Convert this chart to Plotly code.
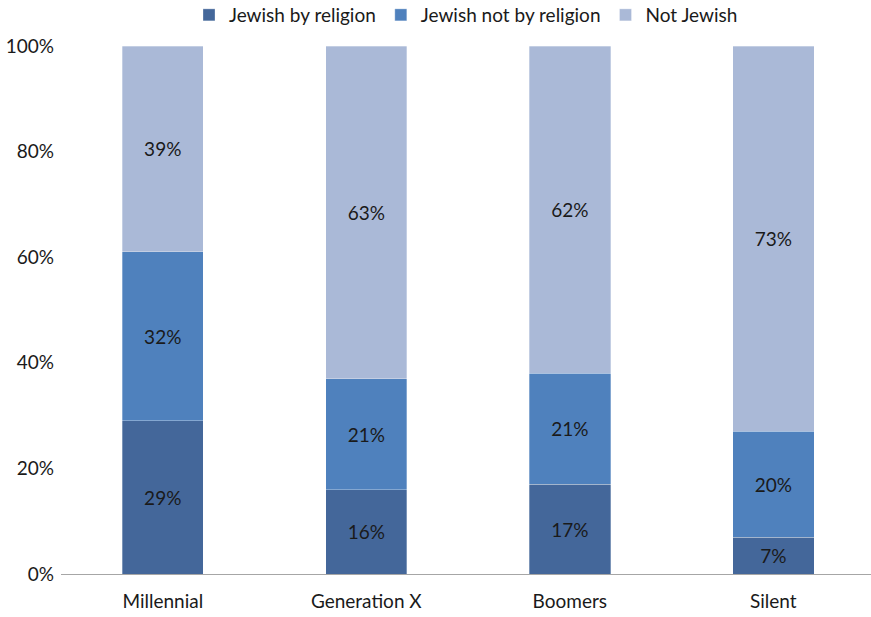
import plotly.graph_objects as go

categories = ["Millennial", "Generation X", "Boomers", "Silent"]
jewish_by_religion = [29, 16, 17, 7]
jewish_not_by_religion = [32, 21, 21, 20]
not_jewish = [39, 63, 62, 73]
series_names = ["Jewish by religion", "Jewish not by religion", "Not Jewish"]
colors = ["#44679A", "#4F81BD", "#AAB9D7"]
tick_vals = [0, 20, 40, 60, 80, 100]
tick_text = ["0%", "20%", "40%", "60%", "80%", "100%"]

FONT = "Lato, 'Open Sans', sans-serif"
FS = 19

fig = go.Figure()
for name, vals, col in zip(series_names, [jewish_by_religion, jewish_not_by_religion, not_jewish], colors):
    fig.add_trace(go.Bar(
        x=categories, y=vals, name=name,
        marker=dict(color=col, line=dict(color="rgba(255,255,255,0.6)", width=0.5)),
        width=0.4,
        text=[f"{v}%" for v in vals],
        textposition="inside", insidetextanchor="middle",
        textfont=dict(family=FONT, size=FS, color="#1a1a1a"),
        constraintext="none",
    ))

fig.update_layout(
    barmode="stack",
    width=871, height=617,
    margin=dict(l=61, r=0, t=46, b=43, autoexpand=False),
    paper_bgcolor="white", plot_bgcolor="white",
    font=dict(family=FONT, size=FS, color="#1a1a1a"),
    uniformtext=dict(mode=False),
    legend=dict(orientation="h", x=0.5, xanchor="center", y=1.0587, yanchor="middle",
                font=dict(size=FS, family=FONT), itemwidth=30, traceorder="normal",
                bgcolor="rgba(0,0,0,0)", tracegroupgap=0),
    xaxis=dict(range=[-0.5, 3.48], showline=True, linecolor="#A6A6A6", linewidth=1,
               ticks="", tickfont=dict(size=FS), showgrid=False, ticklabelstandoff=10),
    yaxis=dict(range=[0, 100], tickvals=tick_vals, ticktext=tick_text, showgrid=False,
               showline=False, zeroline=False, ticks="", tickfont=dict(size=FS), ticklabelstandoff=6),
)

fig.write_html("out.html")
